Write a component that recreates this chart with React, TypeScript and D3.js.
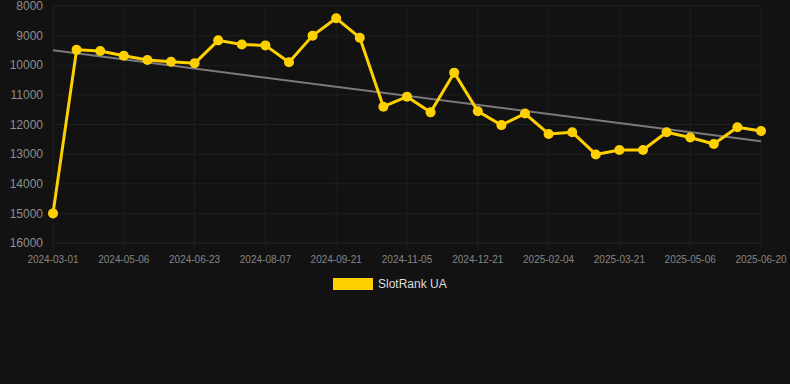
import React from "react";
import * as d3 from "d3";

const dates = [
  "2024-03-01", "2024-04-05", "2024-04-20", "2024-05-06", "2024-05-22", "2024-06-07",
  "2024-06-23", "2024-07-08", "2024-07-23", "2024-08-07", "2024-08-22", "2024-09-06",
  "2024-09-21", "2024-10-06", "2024-10-21", "2024-11-05", "2024-11-20", "2024-12-06",
  "2024-12-21", "2025-01-05", "2025-01-20", "2025-02-04", "2025-02-19", "2025-03-06",
  "2025-03-21", "2025-04-05", "2025-04-20", "2025-05-06", "2025-05-21", "2025-06-05",
  "2025-06-20",
];
const ranks = [
  15000, 9480, 9520, 9680, 9820, 9880, 9935, 9160, 9300, 9330, 9900, 9000, 8415, 9070,
  11400, 11060, 11590, 10250, 11550, 12020, 11630, 12320, 12260, 13010, 12860, 12860,
  12260, 12440, 12660, 12090, 12220,
];
const yTicks = [8000, 9000, 10000, 11000, 12000, 13000, 14000, 15000, 16000];
const seriesName = "SlotRank UA";

const W = 790;
const H = 384;
const left = 53;
const right = 761;
const top = 6;
const bottom = 243;
const GOLD = "#FFD000";
const FONT = "'Liberation Sans', Arial, Helvetica, sans-serif";

export default function App() {
  const x = d3.scaleLinear().domain([0, dates.length - 1]).range([left, right]);
  const y = d3.scaleLinear().domain([8000, 16000]).range([top, bottom]);

  const n = ranks.length;
  const xs = ranks.map((_, i) => i);
  const mx = d3.mean(xs) as number;
  const my = d3.mean(ranks) as number;
  let sxy = 0, sxx = 0;
  xs.forEach((xi, i) => {
    sxy += (xi - mx) * (ranks[i] - my);
    sxx += (xi - mx) * (xi - mx);
  });
  const slope = sxy / sxx;
  const icpt = my - slope * mx;

  const line = d3.line<number>().x((_, i) => x(i)).y((d) => y(d));
  const xTickIdx = dates.map((_, i) => i).filter((i) => i % 3 === 0);

  return (
    <div style={{ position: "fixed", left: 0, top: 0, width: W, height: H, background: "#121212" }}>
      <svg width={W} height={H} style={{ display: "block" }}>
        <rect x={0} y={0} width={W} height={H} fill="#121212" />
        {yTicks.map((t) => (
          <line key={"gy" + t} x1={left} x2={right} y1={y(t)} y2={y(t)}
            stroke={t === 16000 ? "#262626" : "#1e1e1e"} strokeWidth={1} />
        ))}
        {xTickIdx.map((i) => (
          <line key={"gx" + i} x1={x(i)} x2={x(i)} y1={top} y2={bottom + 6}
            stroke="#1e1e1e" strokeWidth={1} />
        ))}
        {yTicks.map((t) => (
          <text key={"ty" + t} x={43} y={y(t)} dy="0.35em" textAnchor="end"
            fill="#8f8f8f" fontSize={12} fontFamily={FONT}>{t}</text>
        ))}
        {xTickIdx.map((i) => (
          <text key={"tx" + i} x={x(i)} y={259} dy="0.35em" textAnchor="middle"
            fill="#858585" fontSize={10} fontFamily={FONT}>{dates[i]}</text>
        ))}
        <line x1={x(0)} x2={x(n - 1)} y1={y(icpt)} y2={y(icpt + slope * (n - 1))}
          stroke="#7a7a7a" strokeWidth={2} />
        <path d={line(ranks) || ""} fill="none" stroke={GOLD} strokeWidth={3}
          strokeLinejoin="round" />
        {ranks.map((v, i) => (
          <circle key={"p" + i} cx={x(i)} cy={y(v)} r={5} fill={GOLD} />
        ))}
        <rect x={333} y={278} width={40} height={12} fill={GOLD} />
        <text x={378} y={284} dy="0.35em" fill="#dddddd" fontSize={12} fontFamily={FONT}>
          {seriesName}
        </text>
      </svg>
    </div>
  );
}
